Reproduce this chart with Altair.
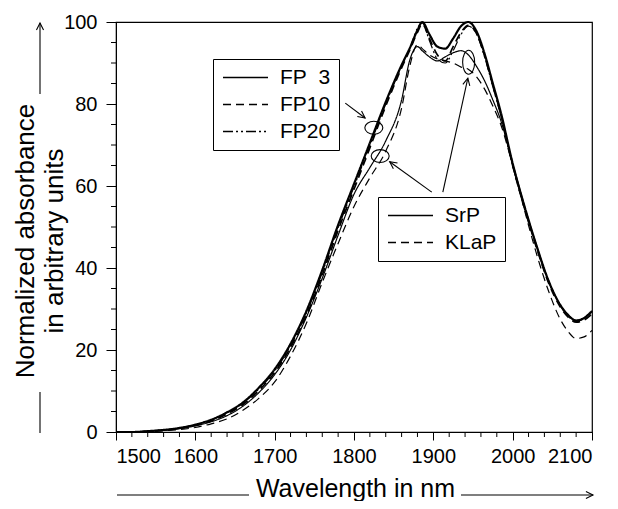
import math
import altair as alt
import pandas as pd

FONT = "Liberation Sans"

# ---------------- data ----------------
wavelength = [1500, 1520, 1540, 1560, 1580, 1600, 1620, 1640, 1660, 1680,
              1700, 1720, 1740, 1760, 1780, 1800, 1820, 1840, 1860, 1870,
              1880, 1886, 1895, 1905, 1915, 1925, 1935, 1944, 1955, 1965,
              1975, 1985, 2000, 2015, 2030, 2045, 2060, 2070, 2080, 2090, 2100]

fp3 = [0, 0, 0.2, 0.5, 1.0, 1.8, 3.0, 4.8, 7.2, 10.8,
       15.3, 21.5, 29.5, 39.5, 50.5, 60.5, 70.5, 80.5, 89.5, 93.5,
       98, 100, 97, 94, 93.5, 96, 99, 100, 97.5, 92,
       85, 78, 65.5, 55, 45.5, 37, 31, 28.5, 27.2, 27.8, 29.5]
fp10 = [0, 0, 0.15, 0.45, 0.9, 1.6, 2.7, 4.4, 6.7, 10.1,
        14.5, 20.6, 28.4, 38.3, 49.2, 59.2, 69.3, 79.5, 88.8, 93,
        97.5, 99.5, 96, 92, 90.5, 94, 97.5, 99.2, 97, 91.5,
        84.5, 77.5, 65, 54.5, 45, 36.5, 30.5, 28, 26.8, 27.3, 28.8]
fp20 = [0, 0, 0.18, 0.48, 0.95, 1.7, 2.85, 4.6, 7.0, 10.5,
        14.9, 21.0, 29.0, 38.9, 49.8, 59.8, 69.9, 80.0, 89.2, 93.3,
        98.5, 99.8, 95.5, 91, 90, 93, 97, 99, 96.8, 91.2,
        84.2, 77.2, 65, 54.7, 45.2, 36.8, 30.8, 28.2, 27, 27.6, 29.2]
srp = [0, 0, 0.15, 0.4, 0.8, 1.5, 2.5, 4.0, 6.3, 9.6,
       14, 20, 28, 37.5, 48, 58, 64.5, 71, 81, 90.5,
       94, 93, 91.5, 90.5, 91.5, 92.5, 93, 92, 89, 85.5,
       81, 76, 65.5, 55, 45.5, 37, 31, 28.5, 27.2, 27.8, 29.5]
klap = [0, 0, 0.1, 0.3, 0.6, 1.1, 2.0, 3.2, 5.3, 8.2,
        12.2, 18.5, 26.5, 36.5, 46, 55, 62, 68.5, 79, 89,
        94.5, 93.5, 92, 91, 90.5, 90, 89, 88.5, 86.5, 83.5,
        79.5, 75, 65, 54, 43.5, 34.5, 27.5, 24.5, 22.8, 23.2, 24.8]

fp_names = ["FP\u20073", "FP10", "FP20"]
glass_names = ["SrP", "KLaP"]

x_ticks = [1500, 1600, 1700, 1800, 1900, 2000, 2100]
x_minor = [v for v in range(1500, 2101, 20) if v % 100 != 0]
y_ticks = [0, 20, 40, 60, 80, 100]
y_minor = [v for v in range(0, 101, 5) if v % 20 != 0]

y_title_lines = ["Normalized absorbance", "in arbitrary units"]
x_title = "Wavelength in nm"

# annotation ellipses (data coordinates)
ell_wl = [1825, 1833, 1944.5]
ell_val = [74.2, 67.3, 90.2]
ell_kind = ["h", "h", "v"]
ell_size = [324, 324, 576]

# annotation arrows (data coordinates, start -> end)
arr_wl1 = [1789, 1898, 1912]
arr_val1 = [80.2, 58.5, 58.5]
arr_wl2 = [1814, 1845, 1943.5]
arr_val2 = [76.6, 65.9, 86.3]

# ---------------- layout ----------------
W, H = 476, 410
X0, X1 = 1500, 2100
Y0, Y1 = 0, 100

fp_df = pd.DataFrame({
    "wl": wavelength * 3,
    "val": fp3 + fp10 + fp20,
    "fp": [n for n in fp_names for _ in wavelength],
})
glass_df = pd.DataFrame({
    "wl": wavelength * 2,
    "val": srp + klap,
    "glass": [n for n in glass_names for _ in wavelength],
})

x_scale = alt.Scale(domain=[X0, X1], nice=False, zero=False)
y_scale = alt.Scale(domain=[Y0, Y1], nice=False, zero=False)

x_axis = alt.Axis(
    values=x_ticks, format="d", grid=False,
    labelFont=FONT, labelFontSize=20, labelColor="black", labelPadding=6,
    tickColor="black", tickSize=8, tickWidth=1, domainColor="black", domainWidth=1,
    title=x_title, titleFont=FONT, titleFontSize=25, titleFontWeight="normal",
    titleColor="black", titleX=239, titleY=64, titleAlign="center", titleBaseline="alphabetic",
)
y_axis = alt.Axis(
    values=y_ticks, format="d", grid=False,
    labelFont=FONT, labelFontSize=20, labelColor="black", labelPadding=9,
    tickColor="black", tickSize=10, tickWidth=1, domainColor="black", domainWidth=1,
    title=None,
)

LEG_LINE = "M-2.5,0L2.5,0"
legend_common = dict(
    orient="none", title=None, strokeColor="black", fillColor="white",
    symbolType=LEG_LINE, symbolSize=324, symbolStrokeWidth=1.3, symbolStrokeColor="black",
    symbolFillColor="transparent", symbolOffset=14,
    labelFont=FONT, labelFontSize=21, labelColor="black", labelOffset=24,
)
fp_legend = alt.Legend(legendX=97, legendY=37, padding=8, rowPadding=5, **legend_common)
glass_legend = alt.Legend(legendX=262, legendY=175, padding=8, rowPadding=5, **legend_common)

fp_lines = alt.Chart(fp_df).mark_line(color="black", interpolate="monotone").encode(
    x=alt.X("wl:Q", scale=x_scale, axis=x_axis),
    y=alt.Y("val:Q", scale=y_scale, axis=y_axis),
    strokeDash=alt.StrokeDash("fp:N", scale=alt.Scale(domain=fp_names, range=[[1, 0], [8, 5], [10, 3, 2, 3, 2, 3]]), legend=fp_legend),
    strokeWidth=alt.StrokeWidth("fp:N", scale=alt.Scale(domain=fp_names, range=[2.2, 1.2, 1.2]), legend=None),
)
glass_lines = alt.Chart(glass_df).mark_line(color="black", interpolate="monotone", strokeWidth=1.2).encode(
    x=alt.X("wl:Q"),
    y=alt.Y("val:Q"),
    strokeDash=alt.StrokeDash("glass:N", scale=alt.Scale(domain=glass_names, range=[[1, 0], [8, 5]]), legend=glass_legend),
)

# minor ticks
xminor = alt.Chart(pd.DataFrame({"wl": x_minor})).mark_rule(color="black", strokeWidth=1).encode(
    x=alt.X("wl:Q"), y=alt.value(H), y2=alt.value(H + 5))
yminor = alt.Chart(pd.DataFrame({"val": y_minor})).mark_rule(color="black", strokeWidth=1).encode(
    y=alt.Y("val:Q"), x=alt.value(0), x2=alt.value(-5))

# ellipses
ELL_H = "M-1,0A1,0.72 0 1,1 1,0A1,0.72 0 1,1 -1,0Z"
ELL_V = "M-0.5,0A0.5,1 0 1,1 0.5,0A0.5,1 0 1,1 -0.5,0Z"
ell_df = pd.DataFrame({"wl": ell_wl, "val": ell_val, "kind": ell_kind, "sz": ell_size})
ellipses = alt.Chart(ell_df).mark_point(filled=False, color="black", strokeWidth=1.1, opacity=1).encode(
    x=alt.X("wl:Q"), y=alt.Y("val:Q"),
    shape=alt.Shape("kind:N", scale=alt.Scale(domain=["h", "v"], range=[ELL_H, ELL_V]), legend=None),
    size=alt.Size("sz:Q", scale=None, legend=None),
)

# arrows
ARROW = "M-0.5,1L0,0L0.5,1"
px_per_x = W / (X1 - X0)
px_per_y = H / (Y1 - Y0)
angles = []
for a, b, c, d in zip(arr_wl1, arr_val1, arr_wl2, arr_val2):
    dx = (c - a) * px_per_x
    dy = -(d - b) * px_per_y
    angles.append(math.degrees(math.atan2(dx, -dy)) % 360)
arr_df = pd.DataFrame({"wl": arr_wl1, "val": arr_val1, "wl2": arr_wl2, "val2": arr_val2, "ang": angles})
arrow_lines = alt.Chart(arr_df).mark_rule(color="black", strokeWidth=1.1).encode(
    x=alt.X("wl:Q"), y=alt.Y("val:Q"), x2="wl2:Q", y2="val2:Q")
arrow_heads = alt.Chart(arr_df).mark_point(shape=ARROW, filled=False, color="black", strokeWidth=1.1,
                                          size=200, opacity=1).encode(
    x=alt.X("wl2:Q", scale=x_scale), y=alt.Y("val2:Q", scale=y_scale),
    angle=alt.Angle("ang:Q", scale=None))

# y-axis title as two rotated text lines
one = pd.DataFrame({"k": [0]})
y_title_1 = alt.Chart(one).mark_text(
    text=y_title_lines[0], angle=270, font=FONT, fontSize=26, color="black",
    align="center", baseline="middle").encode(x=alt.value(-90), y=alt.value(219))
y_title_2 = alt.Chart(one).mark_text(
    text=y_title_lines[1], angle=270, font=FONT, fontSize=26, color="black",
    align="center", baseline="middle").encode(x=alt.value(-61), y=alt.value(219))


def seg(x1, x2, y1, y2):
    return alt.Chart(one).mark_rule(color="black", strokeWidth=1.1).encode(
        x=alt.value(x1), x2=alt.value(x2), y=alt.value(y1), y2=alt.value(y2))


def head(x, y, ang):
    return alt.Chart(one).mark_point(shape=ARROW, filled=False, color="black", strokeWidth=1.1,
                                    size=200, angle=ang, opacity=1).encode(x=alt.value(x), y=alt.value(y))


deco = [
    seg(-76, -76, 1, 72), head(-76, 1, 0),
    seg(-76, -76, 370, 411),
    seg(1, 133, 473, 473),
    seg(345, 477, 473, 473), head(477, 473, 90),
]

chart = alt.layer(
    fp_lines, glass_lines, xminor, yminor, ellipses, arrow_lines, arrow_heads,
    y_title_1, y_title_2, *deco
).resolve_scale(strokeDash="independent").resolve_legend(strokeDash="independent").properties(
    width=W, height=H,
    autosize=alt.AutoSizeParams(type="none"),
    padding={"left": 108, "top": 14, "right": 18, "bottom": 69},
    background="white",
).configure_view(stroke="black", strokeWidth=1.2)

chart.save("out.html", embed_options={"renderer": "svg", "actions": False})
